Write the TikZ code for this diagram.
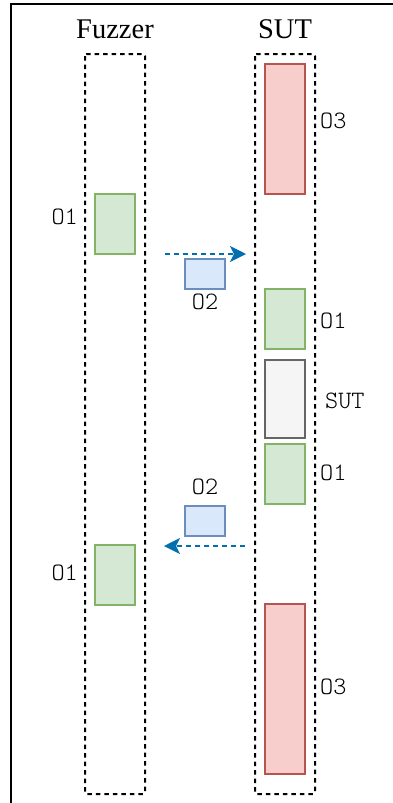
\documentclass[tikz,border=0pt]{standalone}
\usepackage{fontspec}
\setmainfont{Liberation Serif}
\newfontfamily\tagfamily{Latin Modern Mono Light}
\usetikzlibrary{arrows.meta}
\definecolor{gfill}{HTML}{D5E8D4}
\definecolor{gline}{HTML}{82B366}
\definecolor{rfill}{HTML}{F8CECC}
\definecolor{rline}{HTML}{B85450}
\definecolor{bfill}{HTML}{DAE8FC}
\definecolor{bline}{HTML}{6C8EBF}
\definecolor{sfill}{HTML}{F5F5F5}
\definecolor{sline}{HTML}{666666}
\definecolor{flow}{HTML}{006EAF}
\tikzset{
  box/.style={rectangle, inner sep=0pt, line width=1.6pt, minimum width=40pt},
  okbox/.style={box, draw=gline, fill=gfill, minimum height=60pt},
  badbox/.style={box, draw=rline, fill=rfill},
  msgbox/.style={box, draw=bline, fill=bfill, minimum height=30pt},
  sutbox/.style={box, draw=sline, fill=sfill},
  lane/.style={draw, dash pattern=on 4.5pt off 4pt, line width=2pt, rounded corners=2pt},
  title/.style={font=\fontsize{28.5}{31}\selectfont},
  tag/.style={font=\tagfamily\fontsize{25}{27}\selectfont, inner sep=0pt},
  flowline/.style={draw=flow, line width=1.8pt, dash pattern=on 5pt off 4pt, -{Stealth[length=16pt,width=16pt,inset=4pt]}}
}
\begin{document}
\begin{tikzpicture}[x=1pt, y=-1pt]
  \useasboundingbox (0,0) rectangle (393,803);
  % frame
  \draw[line width=2pt] (10.5,803) -- (10.5,3.5) -- (393,3.5);
  % titles
  \node[title] (tfuzz) at (115,29) {Fuzzer};
  \node[title] (tsut) at (285,29) {SUT};
  % lanes
  \draw[lane] (85,54) rectangle (145,794);
  \draw[lane] (255,54) rectangle (315,794);
  % SUT lane blocks
  \node[badbox, minimum height=130pt] (o3a) at (285,129) {};
  \node[tag, anchor=west] (lo3a) at (320,121) {O3};
  \node[okbox] (o1b) at (285,319) {};
  \node[tag, anchor=west] (lo1b) at (320,321) {O1};
  \node[sutbox, minimum height=78pt] (sut) at (285,399) {};
  \node[tag, anchor=west] (lsut) at (325,401) {SUT};
  \node[okbox] (o1c) at (285,474) {};
  \node[tag, anchor=west] (lo1c) at (320,473) {O1};
  \node[badbox, minimum height=170pt] (o3b) at (285,689) {};
  \node[tag, anchor=west] (lo3b) at (320,687) {O3};
  % Fuzzer lane blocks
  \node[okbox] (o1a) at (115,224) {};
  \node[tag, anchor=east] (lo1a) at (78,217) {O1};
  \node[okbox] (o1d) at (115,575) {};
  \node[tag, anchor=east] (lo1d) at (78,573) {O1};
  % messages
  \node[msgbox] (m1) at (205,274) {};
  \node[tag] (lm1) at (205,302) {O2};
  \node[msgbox] (m2) at (205,521) {};
  \node[tag] (lm2) at (205,487) {O2};
  \coordinate (a1s) at (165,254);
  \coordinate (a1e) at (246,254);
  \coordinate (a2s) at (245,546);
  \coordinate (a2e) at (164,546);
  \draw[flowline] (a1s) -- (a1e);
  \draw[flowline] (a2s) -- (a2e);
\end{tikzpicture}
\end{document}
